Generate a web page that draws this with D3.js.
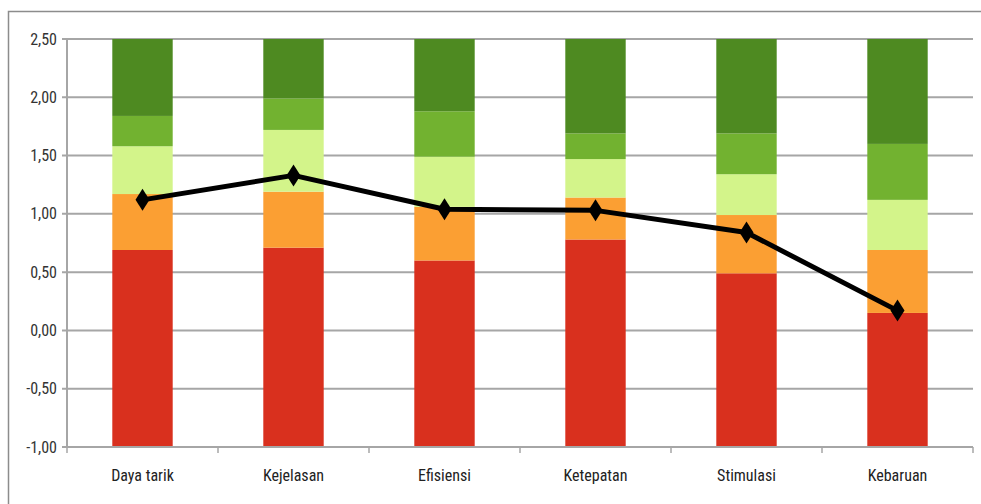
<html>
<script src="https://d3js.org/d3.v7.min.js"></script>
<style>
body{margin:0;background:#fff;}
svg{display:block;}
</style>
<body>
<div class="chart"></div>
</body>
<script>
const width = 981;
const height = 504;
const margin = {top: 39, right: 8, bottom: 57, left: 67};

const categories = ['Daya tarik', 'Kejelasan', 'Efisiensi', 'Ketepatan', 'Stimulasi', 'Kebaruan'];
// upper bound of each benchmark band, stacked up from -1
const bad       = [0.69, 0.71, 0.60, 0.78, 0.49, 0.15];
const belowAvg  = [1.17, 1.19, 1.06, 1.14, 0.99, 0.69];
const aboveAvg  = [1.58, 1.72, 1.49, 1.47, 1.34, 1.12];
const good      = [1.84, 1.99, 1.88, 1.69, 1.69, 1.60];
const excellent = [2.50, 2.50, 2.50, 2.50, 2.50, 2.50];
const mean      = [1.12, 1.33, 1.04, 1.03, 0.84, 0.17];
const yTicks = [-1, -0.5, 0, 0.5, 1, 1.5, 2, 2.5];

const bands = [bad, belowAvg, aboveAvg, good, excellent];
const colors = ['#d9301e', '#fb9f33', '#d3f48a', '#72b230', '#4e8a21'];

const font = '"Liberation Sans Narrow", "Roboto Condensed", sans-serif';

const svg = d3.select('.chart').append('svg')
    .attr('width', width)
    .attr('height', height);

// frame
svg.append('path')
    .attr('d', `M8.5,${height} V11.5 H${width}`)
    .attr('fill', 'none')
    .attr('stroke', '#8c8c8c')
    .attr('stroke-width', 1.5);

const x = d3.scaleBand()
    .domain(categories)
    .range([margin.left, width - margin.right])
    .paddingInner(0.6)
    .paddingOuter(0.3);

const y = d3.scaleLinear()
    .domain([-1, 2.5])
    .range([height - margin.bottom, margin.top]);

const fmt = v => d3.format('.2f')(v).replace('.', ',').replace('−', '-');

// gridlines
svg.append('g')
    .selectAll('line')
    .data(yTicks)
    .enter()
    .append('line')
        .attr('x1', margin.left - 5)
        .attr('x2', width - margin.right)
        .attr('y1', d => y(d))
        .attr('y2', d => y(d))
        .attr('stroke', '#a6a6a6')
        .attr('stroke-width', 2);

// stacked benchmark bars
const segs = [];
categories.forEach((c, i) => {
    bands.forEach((b, j) => {
        const lo = j == 0 ? -1 : bands[j - 1][i];
        segs.push({cat: c, lo: lo, hi: b[i], color: colors[j]});
    });
});

svg.append('g')
    .selectAll('rect')
    .data(segs)
    .enter()
    .append('rect')
        .attr('x', d => x(d.cat))
        .attr('width', x.bandwidth())
        .attr('y', d => y(d.hi))
        .attr('height', d => y(d.lo) - y(d.hi))
        .attr('fill', d => d.color);

// y axis
svg.append('line')
    .attr('x1', margin.left).attr('x2', margin.left)
    .attr('y1', y(2.5)).attr('y2', y(-1))
    .attr('stroke', '#a6a6a6')
    .attr('stroke-width', 2);

svg.append('g')
    .selectAll('text')
    .data(yTicks)
    .enter()
    .append('text')
        .attr('x', margin.left - 10)
        .attr('y', d => y(d))
        .attr('dy', '0.35em')
        .attr('text-anchor', 'end')
        .attr('font-family', font)
        .attr('font-size', 16)
        .attr('fill', '#333')
        .text(d => fmt(d));

// x axis
const base = y(-1);
svg.append('line')
    .attr('x1', margin.left).attr('x2', width - margin.right)
    .attr('y1', base).attr('y2', base)
    .attr('stroke', '#a6a6a6')
    .attr('stroke-width', 2);

const edges = categories.map(c => x(c) - x.step() * x.paddingInner() / 2)
    .concat([width - margin.right]);
edges[0] = margin.left;
svg.append('g')
    .selectAll('line')
    .data(edges)
    .enter()
    .append('line')
        .attr('x1', d => d).attr('x2', d => d)
        .attr('y1', base).attr('y2', base + 6)
        .attr('stroke', '#a6a6a6')
        .attr('stroke-width', 1.5);

svg.append('g')
    .selectAll('text')
    .data(categories)
    .enter()
    .append('text')
        .attr('x', d => x(d) + x.bandwidth() / 2)
        .attr('y', base + 34)
        .attr('text-anchor', 'middle')
        .attr('font-family', font)
        .attr('font-size', 16)
        .attr('fill', '#222')
        .text(d => d);

// mean line
const pts = categories.map((c, i) => ({cat: c, value: mean[i]}));
const line = d3.line()
    .x(d => x(d.cat) + x.bandwidth() / 2)
    .y(d => y(d.value));

svg.append('path')
    .attr('d', line(pts))
    .attr('fill', 'none')
    .attr('stroke', '#000')
    .attr('stroke-width', 5)
    .attr('stroke-linejoin', 'round');

svg.append('g')
    .selectAll('path')
    .data(pts)
    .enter()
    .append('path')
        .attr('transform', d => `translate(${x(d.cat) + x.bandwidth() / 2},${y(d.value)})`)
        .attr('d', 'M0,-11 L7,0 L0,11 L-7,0 Z')
        .attr('fill', '#000');
</script>
</html>
